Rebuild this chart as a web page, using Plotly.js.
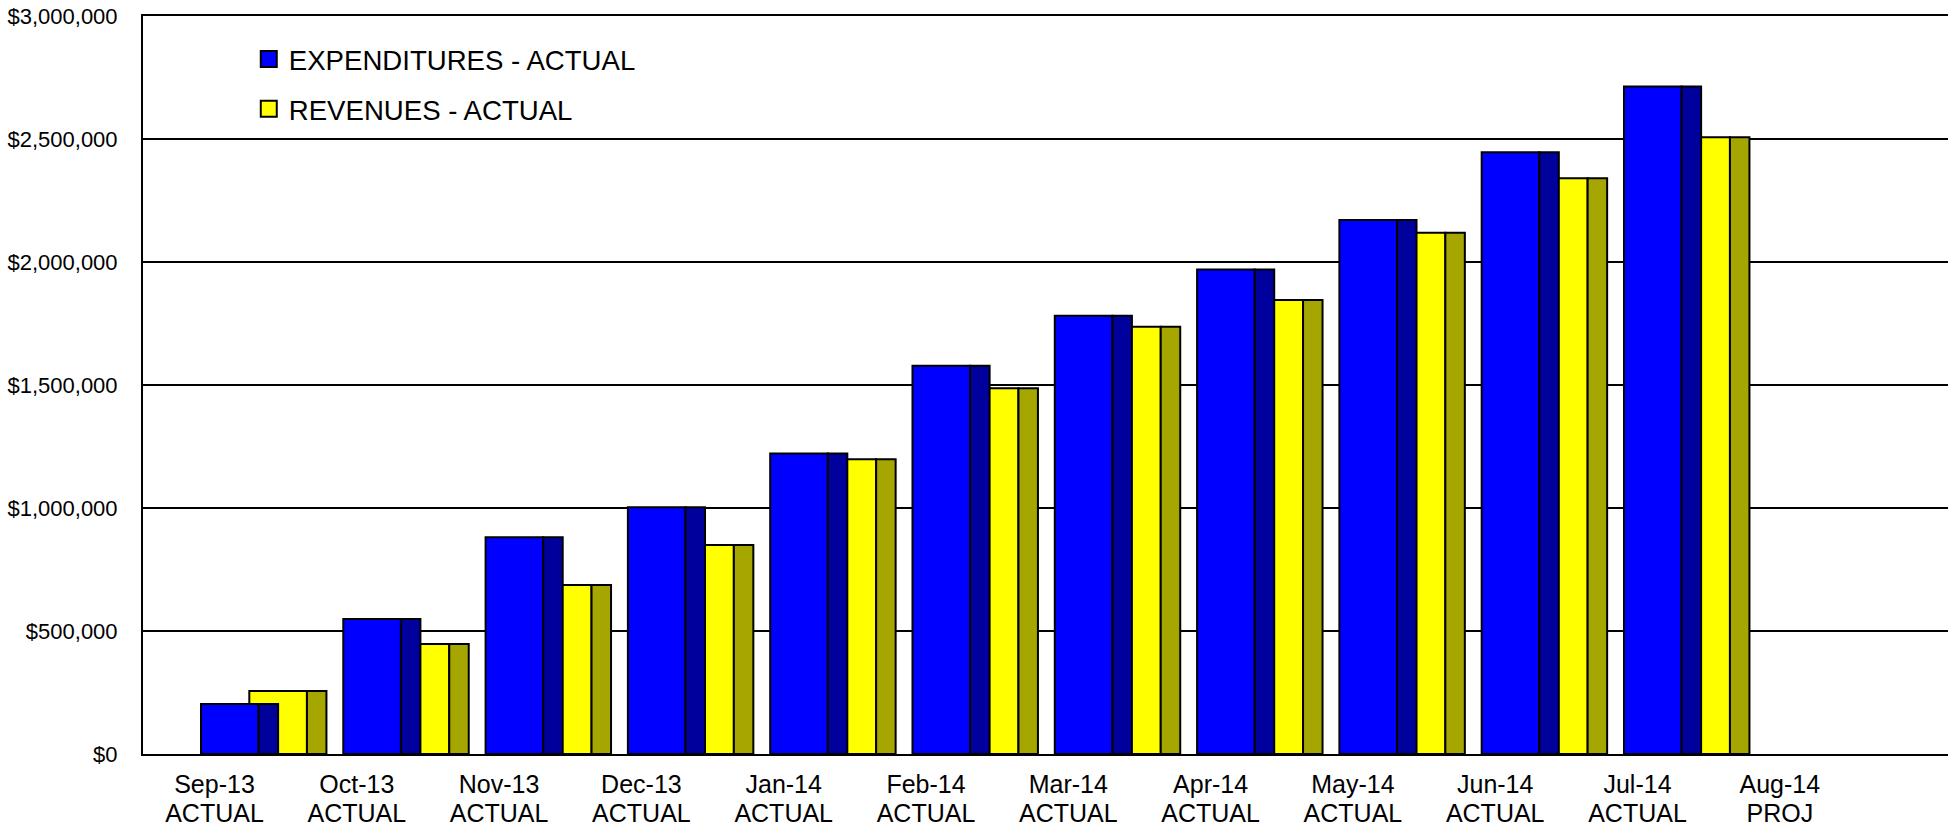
<!DOCTYPE html>
<html>
<head>
<meta charset="utf-8">
<script src="https://cdn.plot.ly/plotly-3.0.1.min.js"></script>
<style>
  html, body { margin: 0; padding: 0; background: #fff; }
  #chart { width: 1958px; height: 828px; }
</style>
</head>
<body>
<div id="chart"></div>
<script>
// Cumulative monthly totals, fiscal year Sep-13 .. Aug-14
const months = ['Sep-13', 'Oct-13', 'Nov-13', 'Dec-13', 'Jan-14', 'Feb-14',
                'Mar-14', 'Apr-14', 'May-14', 'Jun-14', 'Jul-14', 'Aug-14'];
const status = ['ACTUAL', 'ACTUAL', 'ACTUAL', 'ACTUAL', 'ACTUAL', 'ACTUAL',
                'ACTUAL', 'ACTUAL', 'ACTUAL', 'ACTUAL', 'ACTUAL', 'PROJ'];
const expenditures = [203000, 549000, 881000, 1003000, 1222000, 1578000,
                      1782000, 1970000, 2171000, 2446000, 2713000, null];
const revenues = [256000, 447000, 687000, 850000, 1198000, 1487000,
                  1737000, 1846000, 2119000, 2340000, 2507000, null];

const pos = months.map((_, i) => i);

// Each bar is a front face plus a darker side face for the 3-D look.
const FRONT_W = 0.405, SIDE_W = 0.137;
const BLUE_OFF = -0.095, YELLOW_OFF = 0.2446;
const outline = { color: '#000', width: 2 };

function face(y, color, offset, width) {
  return {
    type: 'bar', x: pos, y: y, offset: offset, width: width,
    showlegend: false, hoverinfo: 'skip',
    marker: { color: color, line: outline }
  };
}

// legend entries: square swatches with a black border
function key(name, color, rank) {
  return {
    type: 'scatter', mode: 'markers', x: [null], y: [null], name: name,
    legendrank: rank, legendgroup: name, hoverinfo: 'skip',
    marker: { symbol: 'square', size: 18, color: color, line: outline }
  };
}

const traces = [
  face(revenues, '#FFFF00', YELLOW_OFF, FRONT_W),
  face(revenues, '#A6A600', YELLOW_OFF + FRONT_W, SIDE_W),
  face(expenditures, '#0000FF', BLUE_OFF, FRONT_W),
  face(expenditures, '#00009C', BLUE_OFF + FRONT_W, SIDE_W),
  key('EXPENDITURES - ACTUAL', '#0000FF', 1),
  key('REVENUES - ACTUAL', '#FFFF00', 2)
];

const FONT = 'Arial, "Liberation Sans", sans-serif';
const xRange = [-0.5025, 12.182];

const layout = {
  width: 1958, height: 828,
  margin: { l: 143, r: 10, t: 16, b: 74 },
  paper_bgcolor: '#fff', plot_bgcolor: '#fff',
  barmode: 'overlay',
  font: { family: FONT, color: '#000' },
  showlegend: true,
  legend: {
    x: 0.0586, y: 0.975, xanchor: 'left', yanchor: 'top',
    bgcolor: 'rgba(0,0,0,0)', borderwidth: 0,
    traceorder: 'grouped', tracegroupgap: 11,
    font: { family: FONT, size: 27.6, color: '#000' }
  },
  xaxis: {
    range: xRange, tickvals: pos, ticktext: months,
    showgrid: false, zeroline: false,
    showline: true, mirror: true, linecolor: '#000', linewidth: 2,
    ticks: '', ticklabelstandoff: 7,
    tickfont: { family: FONT, size: 25, color: '#000' }
  },
  xaxis2: {
    overlaying: 'x', anchor: 'y', side: 'bottom',
    range: xRange, tickvals: pos, ticktext: status,
    showgrid: false, zeroline: false, showline: false,
    ticks: '', ticklabelstandoff: 42,
    tickfont: { family: FONT, size: 25, color: '#000' }
  },
  yaxis: {
    range: [0, 3000000], dtick: 500000, tickformat: '$,.0f',
    showgrid: true, gridcolor: '#000', gridwidth: 2,
    zeroline: false, showline: true, linecolor: '#000', linewidth: 2,
    ticks: '', ticklabelstandoff: 19,
    tickfont: { family: FONT, size: 22, color: '#000' }
  }
};

// invisible carrier trace so the second category axis is drawn
traces.push({ type: 'scatter', x: [0], y: [null], xaxis: 'x2', yaxis: 'y',
              showlegend: false, hoverinfo: 'skip' });

Plotly.newPlot('chart', traces, layout, { displayModeBar: false, staticPlot: true });
</script>
</body>
</html>
